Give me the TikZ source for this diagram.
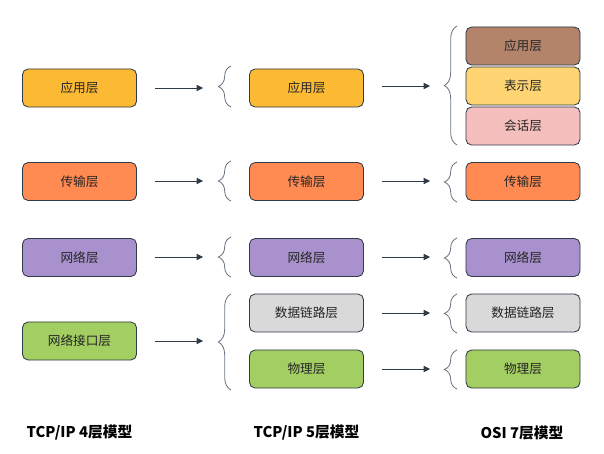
\documentclass[tikz,border=0pt]{standalone}
\usepackage{fontspec}
\setmainfont{Noto Sans CJK SC}
\usepackage{tikz}
\usetikzlibrary{arrows.meta, decorations.pathreplacing}

\definecolor{edgegray}{HTML}{2F3B47}
\definecolor{bracegray}{HTML}{6A7683}
\definecolor{appyellow}{HTML}{FBB934}
\definecolor{transorange}{HTML}{FF8A52}
\definecolor{netpurple}{HTML}{A891CC}
\definecolor{ifgreen}{HTML}{A3CE62}
\definecolor{linkgray}{HTML}{D9D9D9}
\definecolor{appbrown}{HTML}{B3846A}
\definecolor{presyellow}{HTML}{FFD573}
\definecolor{sesspink}{HTML}{F5BFBE}

\begin{document}
\begin{tikzpicture}[
  x=0.025cm, y=-0.025cm,
  font=\fontsize{9}{11}\selectfont,
  layer/.style={draw=edgegray, line width=0.6pt, rounded corners=4pt, minimum width=2.85cm, minimum height=0.95cm, align=center, text=black!85},
  title/.style={font=\fontsize{10.5}{12}\selectfont\bfseries, text=black},
  flow/.style={-{Triangle[length=4.5pt, width=4.5pt]}, draw=edgegray, line width=0.6pt},
  curly/.style={draw=bracegray, line width=0.6pt, decorate, decoration={brace, amplitude=9pt}}
]
\useasboundingbox (0,0) rectangle (604,453);

% --- TCP/IP 4 layers ---
\node[layer, fill=appyellow] (fapp) at (79.5,88) {应用层};
\node[layer, fill=transorange] (ftrans) at (79.5,181.5) {传输层};
\node[layer, fill=netpurple] (fnet) at (79.5,257.5) {网络层};
\node[layer, fill=ifgreen] (fif) at (79.5,341) {网络接口层};

% --- TCP/IP 5 layers ---
\node[layer, fill=appyellow] (tapp) at (306.5,88) {应用层};
\node[layer, fill=transorange] (ttrans) at (306.5,181.5) {传输层};
\node[layer, fill=netpurple] (tnet) at (306.5,257.5) {网络层};
\node[layer, fill=linkgray] (tlink) at (306.5,313) {数据链路层};
\node[layer, fill=ifgreen] (tphy) at (306.5,369) {物理层};

% --- OSI 7 layers ---
\node[layer, fill=appbrown] (oapp) at (523,46) {应用层};
\node[layer, fill=presyellow] (opres) at (523,86) {表示层};
\node[layer, fill=sesspink] (osess) at (523,126) {会话层};
\node[layer, fill=transorange] (otrans) at (523,181.5) {传输层};
\node[layer, fill=netpurple] (onet) at (523,257.5) {网络层};
\node[layer, fill=linkgray] (olink) at (523,313) {数据链路层};
\node[layer, fill=ifgreen] (ophy) at (523,369) {物理层};

% braces in front of the 5-layer column
\draw[curly] (231,107) -- (231,66);
\draw[curly] (231,201) -- (231,161);
\draw[curly] (231,277) -- (231,237);
\draw[curly] (231,390) -- (231,294);
% braces in front of the OSI column
\draw[curly] (457,145) -- (457,26);
\draw[curly] (457,202) -- (457,162);
\draw[curly] (457,278) -- (457,238);
\draw[curly] (457,333) -- (457,294);
\draw[curly] (457,389) -- (457,350);

% arrows between the columns
\coordinate (a1) at (155,88);  \coordinate (b1) at (203,88);
\coordinate (a2) at (155,181); \coordinate (b2) at (203,181);
\coordinate (a3) at (155,257); \coordinate (b3) at (203,257);
\coordinate (a4) at (155,341); \coordinate (b4) at (203,341);
\draw[flow] (a1) -- (b1);
\draw[flow] (a2) -- (b2);
\draw[flow] (a3) -- (b3);
\draw[flow] (a4) -- (b4);
\coordinate (c1) at (382,86);  \coordinate (d1) at (430,86);
\coordinate (c2) at (382,181); \coordinate (d2) at (430,181);
\coordinate (c3) at (382,257); \coordinate (d3) at (430,257);
\coordinate (c4) at (382,313); \coordinate (d4) at (430,313);
\coordinate (c5) at (382,369); \coordinate (d5) at (430,369);
\draw[flow] (c1) -- (d1);
\draw[flow] (c2) -- (d2);
\draw[flow] (c3) -- (d3);
\draw[flow] (c4) -- (d4);
\draw[flow] (c5) -- (d5);

% column titles
\node[title] (ftitle) at (79.5,433) {TCP/IP 4层模型};
\node[title] (ttitle) at (306.5,433) {TCP/IP 5层模型};
\node[title] (otitle) at (522,433) {OSI 7层模型};
\end{tikzpicture}
\end{document}
